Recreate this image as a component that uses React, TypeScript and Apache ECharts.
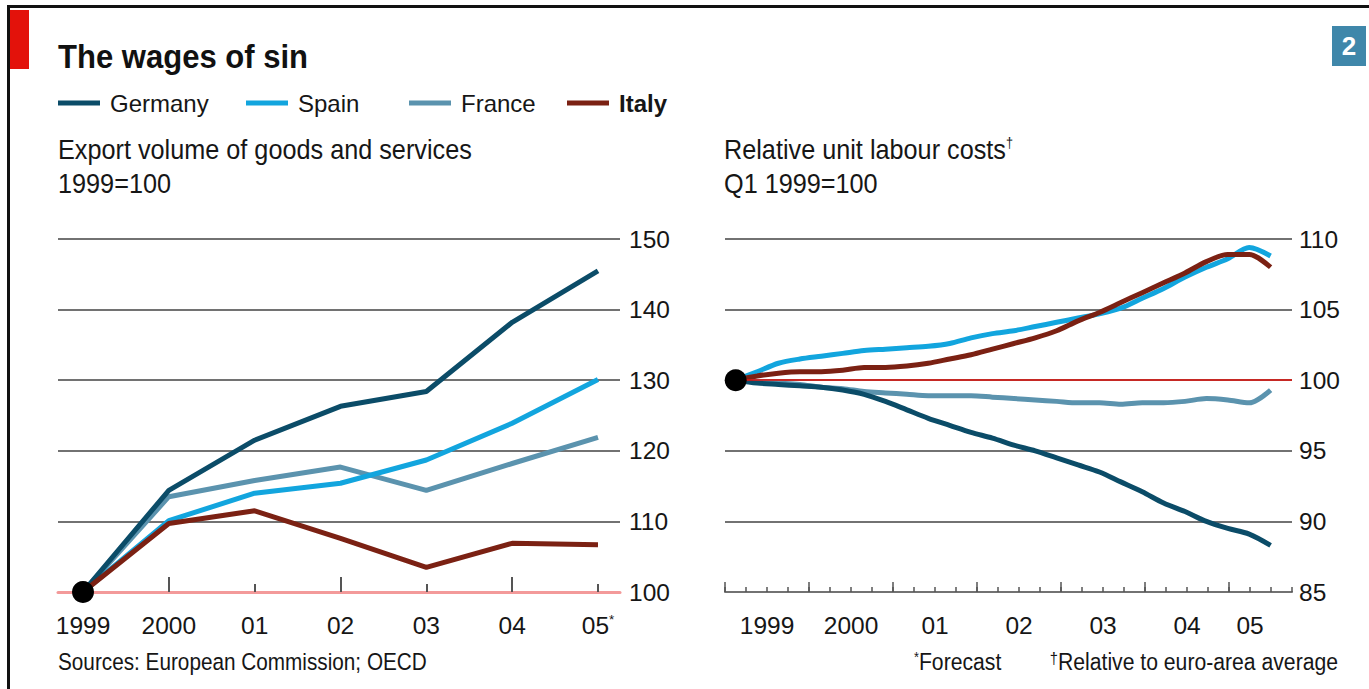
import React, { useEffect, useRef } from 'react';
import * as echarts from 'echarts';

// ---------- data ----------
const legendNames = ['Germany', 'Spain', 'France', 'Italy'];
const seriesColors = ['#0b4c68', '#12a5de', '#5b93ae', '#7b2113'];

// Left panel: export volume of goods and services, 1999=100
const exportYears = ['1999', '2000', '01', '02', '03', '04', '05'];
const exportGermany = [100, 114.4, 121.5, 126.3, 128.4, 138.2, 145.5];
const exportSpain = [100, 110.1, 114.0, 115.4, 118.7, 123.9, 130.1];
const exportFrance = [100, 113.5, 115.8, 117.7, 114.4, 118.2, 121.9];
const exportItaly = [100, 109.7, 111.5, 107.6, 103.5, 106.9, 106.7];
const exportMin = 100;
const exportMax = 150;
const exportStep = 10;

// Right panel: relative unit labour costs, Q1 1999=100, quarterly Q1 1999 .. Q2 2005
const ulcGermany = [100, 99.8, 99.7, 99.6, 99.5, 99.3, 99.0, 98.5, 97.9, 97.3, 96.8, 96.3, 95.9, 95.4, 95.0, 94.5, 94.0, 93.5, 92.8, 92.1, 91.3, 90.7, 90.0, 89.5, 89.1, 88.3];
const ulcSpain = [100, 100.6, 101.2, 101.5, 101.7, 101.9, 102.1, 102.2, 102.3, 102.4, 102.6, 103.0, 103.3, 103.5, 103.8, 104.1, 104.4, 104.7, 105.1, 105.8, 106.5, 107.3, 108.0, 108.6, 109.4, 108.8];
const ulcFrance = [100, 99.9, 99.8, 99.7, 99.5, 99.4, 99.2, 99.1, 99.0, 98.9, 98.9, 98.9, 98.8, 98.7, 98.6, 98.5, 98.4, 98.4, 98.3, 98.4, 98.4, 98.5, 98.7, 98.6, 98.4, 99.3];
const ulcItaly = [100, 100.3, 100.5, 100.6, 100.6, 100.7, 100.9, 100.9, 101.0, 101.2, 101.5, 101.8, 102.2, 102.6, 103.0, 103.5, 104.2, 104.8, 105.5, 106.2, 106.9, 107.6, 108.4, 108.9, 108.9, 108.0];
const ulcMin = 85;
const ulcMax = 110;
const ulcStep = 5;
const ulcAxisQuarters = 27; // Q1 1999 .. Q3 2005
const ulcYearLabels = ['1999', '2000', '01', '02', '03', '04', '05'];
const ulcYearLabelQuarter = [2, 6, 10, 14, 18, 22, 25];
const baseValue = 100;

const FONT = "'Liberation Sans', Arial, sans-serif";
const TEXT = '#161616';
const GRID = '#727272';
const CAP = 0.716;

function measure(text: string, size: number, weight = 'normal'): number {
  const ctx = document.createElement('canvas').getContext('2d');
  if (!ctx) return text.length * size * 0.5;
  ctx.font = `${weight} ${size}px ${FONT}`;
  return ctx.measureText(text).width;
}

export default function App() {
  const ref = useRef<HTMLDivElement>(null);

  useEffect(() => {
    if (!ref.current) return;
    const chart = echarts.init(ref.current, undefined, { renderer: 'svg' });

    const fsTick = 24.5;
    const fsLegend = 24;
    const fsTitle = 24 / CAP;
    const fsSub = 20 / CAP;
    const fsNote = 17 / CAP;
    const sxTitle = 250 / measure('The wages of sin', fsTitle, 'bold');
    const sxSub = 414 / measure('Export volume of goods and services', fsSub);
    const sxNote = 369 / measure('Sources: European Commission; OECD', fsNote);
    const sxNoteR = 292 / measure('†Relative to euro-area average', fsNote);

    const L = { left: 58, right: 620, dataLeft: 83, dataRight: 598, top: 239, bottom: 592 };
    const R = { left: 725, right: 1292, top: 239, bottom: 592 };
    const h = L.bottom - L.top;
    const q = (R.right - R.left) / ulcAxisQuarters;
    const legendLeft = [58, 246, 409, 567];

    const tickLabel = { fontSize: fsTick, fontFamily: FONT, color: TEXT };
    const xLabelMargin = 625 - 592 - fsTick / 2;

    const leftData = [exportGermany, exportSpain, exportFrance, exportItaly];
    const rightData = [ulcGermany, ulcSpain, ulcFrance, ulcItaly];
    const drawOrder = [2, 1, 0, 3];

    const series: any[] = [];
    drawOrder.forEach((k) => {
      series.push({
        type: 'line',
        name: legendNames[k],
        xAxisIndex: 1,
        yAxisIndex: 1,
        data: leftData[k],
        color: seriesColors[k],
        symbol: 'none',
        lineStyle: { width: 5, color: seriesColors[k] },
        z: 3,
      });
    });
    series.push({
      type: 'line',
      name: 'base',
      xAxisIndex: 5,
      yAxisIndex: 3,
      data: [],
      z: 1,
      markLine: {
        silent: true,
        symbol: 'none',
        label: { show: false },
        lineStyle: { color: '#e3120b', width: 1.5, type: 'solid' },
        data: [{ yAxis: baseValue }],
      },
    });
    drawOrder.forEach((k) => {
      series.push({
        type: 'line',
        name: legendNames[k],
        xAxisIndex: 5,
        yAxisIndex: 3,
        data: rightData[k].map((v, i) => [i, v]),
        color: seriesColors[k],
        symbol: 'none',
        smooth: 0.3,
        lineStyle: { width: 5, color: seriesColors[k] },
        z: 3,
      });
    });
    series.push({
      type: 'scatter',
      name: 'start-left',
      xAxisIndex: 1,
      yAxisIndex: 1,
      data: [[0, exportGermany[0]]],
      symbolSize: 22,
      itemStyle: { color: '#000', opacity: 1 },
      z: 5,
    });
    series.push({
      type: 'scatter',
      name: 'start-right',
      xAxisIndex: 5,
      yAxisIndex: 3,
      data: [[0, ulcGermany[0]]],
      symbolSize: 22,
      itemStyle: { color: '#000', opacity: 1 },
      z: 5,
    });

    const txt = (
      text: string,
      x: number,
      y: number,
      size: number,
      sx: number,
      extra: any = {},
      supScale = 0.6
    ) => ({
      type: 'text',
      x,
      y,
      scaleX: sx,
      style: {
        text,
        fontSize: size,
        fontFamily: FONT,
        fill: TEXT,
        verticalAlign: 'middle',
        rich: { s: { fontSize: size * supScale, verticalAlign: 'top', fill: TEXT, fontFamily: FONT } },
        ...extra,
      },
    });

    const legends = legendNames.map((name, k) => ({
      data: [name],
      left: legendLeft[k],
      top: 103 - 12,
      padding: 0,
      icon: 'rect',
      itemWidth: 42,
      itemHeight: 5,
      selectedMode: false,
      formatter: (n: string) => (n === 'Italy' ? `{b|${n}}` : n),
      textStyle: {
        fontSize: fsLegend,
        lineHeight: 24,
        fontFamily: FONT,
        color: TEXT,
        padding: [0, 0, 0, 5],
        rich: { b: { fontSize: fsLegend, lineHeight: 24, fontFamily: FONT, fontWeight: 'bold', color: TEXT } },
      },
    }));

    const option: any = {
      animation: false,
      backgroundColor: '#fff',
      grid: [
        { left: L.left, top: L.top, width: L.right - L.left, height: h },
        { left: L.dataLeft, top: L.top, width: L.dataRight - L.dataLeft, height: h },
        { left: R.left, top: R.top, width: R.right - R.left, height: h },
        { left: R.left, top: R.top, width: R.right - R.left, height: h },
        { left: R.left, top: R.top, width: q * 24, height: h },
      ],
      legend: legends,
      xAxis: [
        {
          gridIndex: 0,
          type: 'value',
          position: 'bottom',
          min: 0,
          max: 1,
          axisLine: { show: true, lineStyle: { color: '#f39a9a', width: 3 } },
          axisTick: { show: false },
          axisLabel: { show: false },
          splitLine: { show: false },
        },
        {
          gridIndex: 1,
          type: 'category',
          position: 'bottom',
          data: exportYears,
          boundaryGap: false,
          axisLine: { show: false },
          axisTick: { show: true, inside: true, length: 15, interval: (i: number) => i % 2 === 1, lineStyle: { color: '#555', width: 2 } },
          axisLabel: {
            ...tickLabel,
            interval: 0,
            margin: xLabelMargin,
            formatter: (v: string, i: number) => (i === exportYears.length - 1 ? `${v}{s|*}` : v),
            rich: { s: { fontSize: fsTick * 0.55, verticalAlign: 'top', fontFamily: FONT, color: TEXT } },
          },
          splitLine: { show: false },
        },
        {
          gridIndex: 1,
          type: 'category',
          position: 'bottom',
          data: exportYears,
          boundaryGap: false,
          axisLine: { show: false },
          axisTick: { show: true, inside: true, length: 8, interval: (i: number) => i % 2 === 0 && i > 0, lineStyle: { color: '#555', width: 2 } },
          axisLabel: { show: false },
          splitLine: { show: false },
        },
        {
          gridIndex: 2,
          type: 'value',
          position: 'bottom',
          min: 0,
          max: ulcAxisQuarters,
          interval: 1,
          axisLine: { show: true, lineStyle: { color: GRID, width: 2 } },
          axisTick: { show: true, inside: true, length: 5, lineStyle: { color: '#555', width: 1.5 } },
          axisLabel: {
            ...tickLabel,
            margin: xLabelMargin,
            formatter: (v: number) => {
              const k = ulcYearLabelQuarter.indexOf(v);
              return k >= 0 ? ulcYearLabels[k] : '';
            },
          },
          splitLine: { show: false },
        },
        {
          gridIndex: 4,
          type: 'value',
          position: 'bottom',
          min: 0,
          max: 24,
          interval: 4,
          axisLine: { show: false },
          axisTick: { show: true, inside: true, length: 10, lineStyle: { color: '#555', width: 1.5 } },
          axisLabel: { show: false },
          splitLine: { show: false },
        },
        { gridIndex: 3, type: 'value', position: 'bottom', min: -0.5, max: 26, show: false },
      ],
      yAxis: [
        {
          gridIndex: 0,
          type: 'value',
          min: exportMin,
          max: exportMax,
          interval: exportStep,
          position: 'right',
          axisLine: { show: false },
          axisTick: { show: false },
          axisLabel: { ...tickLabel, margin: 9 },
          splitLine: { show: true, showMinLine: false, lineStyle: { color: GRID, width: 2 } },
        },
        { gridIndex: 1, type: 'value', min: exportMin, max: exportMax, show: false },
        {
          gridIndex: 2,
          type: 'value',
          min: ulcMin,
          max: ulcMax,
          interval: ulcStep,
          position: 'right',
          axisLine: { show: false },
          axisTick: { show: false },
          axisLabel: { ...tickLabel, margin: 7 },
          splitLine: { show: true, showMinLine: false, lineStyle: { color: GRID, width: 2 } },
        },
        { gridIndex: 3, type: 'value', min: ulcMin, max: ulcMax, show: false },
        { gridIndex: 4, type: 'value', min: 0, max: 1, show: false },
      ],
      series,
      graphic: [
        { type: 'rect', shape: { x: 7, y: 5, width: 1362, height: 3 }, style: { fill: '#111' } },
        { type: 'rect', shape: { x: 7, y: 5, width: 3, height: 684 }, style: { fill: '#111' } },
        { type: 'rect', shape: { x: 10, y: 10, width: 19, height: 59 }, style: { fill: '#e3120b' } },
        { type: 'rect', shape: { x: 1332, y: 26, width: 34, height: 40 }, style: { fill: '#3f87aa' } },
        {
          type: 'text',
          x: 1349,
          y: 46,
          style: { text: '2', fontSize: 26, fontWeight: 'bold', fontFamily: FONT, fill: '#fff', align: 'center', verticalAlign: 'middle' },
        },
        txt('The wages of sin', 58, 57, fsTitle, sxTitle, { fontWeight: 'bold', fill: '#111' }),
        txt('Export volume of goods and services', 58, 150, fsSub, sxSub),
        txt('1999=100', 58, 184, fsSub, sxSub),
        txt('Relative unit labour costs{s|†}', 724, 150, fsSub, sxSub, {}, 0.5),
        txt('Q1 1999=100', 724, 184, fsSub, sxSub),
        txt('Sources: European Commission; OECD', 58, 662, fsNote, sxNote),
        txt('{s|*}Forecast', 914, 662, fsNote, sxNoteR),
        txt('{s|†}Relative to euro-area average', 1338, 662, fsNote, sxNoteR, { align: 'right' }, 0.7),
      ],
    };

    chart.setOption(option);
    return () => chart.dispose();
  }, []);

  return (
    <div
      ref={ref}
      style={{ position: 'absolute', left: 0, top: 0, width: 1369, height: 689, background: '#fff' }}
    />
  );
}
